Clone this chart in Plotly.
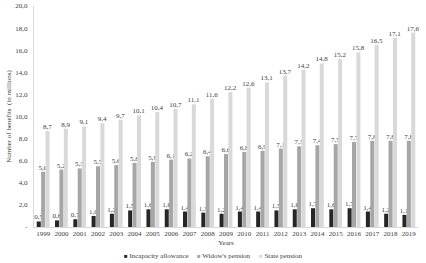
import plotly.graph_objects as go

years = [str(y) for y in range(1999, 2020)]
incapacity = [0.5, 0.6, 0.7, 1.0, 1.2, 1.5, 1.6, 1.6, 1.4, 1.3, 1.2, 1.4, 1.4, 1.5, 1.6, 1.7, 1.6, 1.7, 1.4, 1.2, 1.1]
widow = [5.0, 5.2, 5.3, 5.5, 5.6, 5.8, 5.9, 6.1, 6.2, 6.4, 6.6, 6.8, 6.9, 7.1, 7.3, 7.4, 7.5, 7.7, 7.8, 7.8, 7.8]
state = [8.7, 8.9, 9.1, 9.4, 9.7, 10.1, 10.4, 10.7, 11.1, 11.6, 12.2, 12.6, 13.1, 13.7, 14.2, 14.8, 15.2, 15.8, 16.5, 17.1, 17.6]
series_names = ["Incapacity allowance", "Widow's pension", "State pension"]
colors = ["#262626", "#a6a6a6", "#d9d9d9"]
y_tickvals = [0, 2, 4, 6, 8, 10, 12, 14, 16, 18, 20]
y_ticktext = ["-", "2,0", "4,0", "6,0", "8,0", "10,0", "12,0", "14,0", "16,0", "18,0", "20,0"]

FONT = "Liberation Serif"
TXT = "#404040"
fig = go.Figure()
for name, vals, col in zip(series_names, [incapacity, widow, state], colors):
    tf = dict(family=FONT, size=7, color=TXT)
    fig.add_trace(go.Bar(
        x=years, y=vals, name=name, marker=dict(color=col, line=dict(width=0)),
        text=[f"{v:.1f}".replace(".", ",") for v in vals],
        textposition="outside", cliponaxis=False, constraintext="none", textangle=0,
        textfont=tf, outsidetextfont=tf, insidetextfont=tf,
        showlegend=False, hoverinfo="skip",
    ))

# legend drawn as text entries (small square + label), left-anchored in paper coords
legend_x = [0.229, 0.419, 0.581]
for name, col, lx in zip(series_names, colors, legend_x):
    fig.add_annotation(
        xref="paper", yref="paper", x=lx, y=-0.131, xanchor="left", yanchor="middle",
        showarrow=False,
        text=f"<span style='color:{col};font-size:6px'>■</span> {name}",
        font=dict(family=FONT, size=7, color=TXT),
    )

fig.update_layout(
    width=426, height=263,
    margin=dict(l=34, r=8, t=6, b=36, autoexpand=False),
    paper_bgcolor="white", plot_bgcolor="white",
    barmode="group", bargap=0.28, bargroupgap=0.08,
    font=dict(family=FONT, size=7, color=TXT),
    showlegend=False,
)
fig.update_xaxes(
    type="category", showgrid=False, showline=True, linecolor="#d9d9d9", linewidth=1,
    ticks="", automargin=False, ticklabelstandoff=0,
    tickfont=dict(family=FONT, size=7, color=TXT),
    title=dict(text="Years", font=dict(family=FONT, size=7, color=TXT), standoff=2),
)
fig.update_yaxes(
    range=[0, 20], tickvals=y_tickvals, ticktext=y_ticktext, showgrid=False,
    showline=True, linecolor="#d9d9d9", linewidth=1, zeroline=False, ticks="",
    automargin=False, ticklabelstandoff=4,
    tickfont=dict(family=FONT, size=7, color=TXT),
    title=dict(text="Number of benefits  (in millions)", font=dict(family=FONT, size=7, color=TXT), standoff=2),
)
fig.write_html("out.html", config={"displayModeBar": False, "staticPlot": True},
               post_script="document.body.style.margin='0px';document.body.style.overflow='hidden';")
